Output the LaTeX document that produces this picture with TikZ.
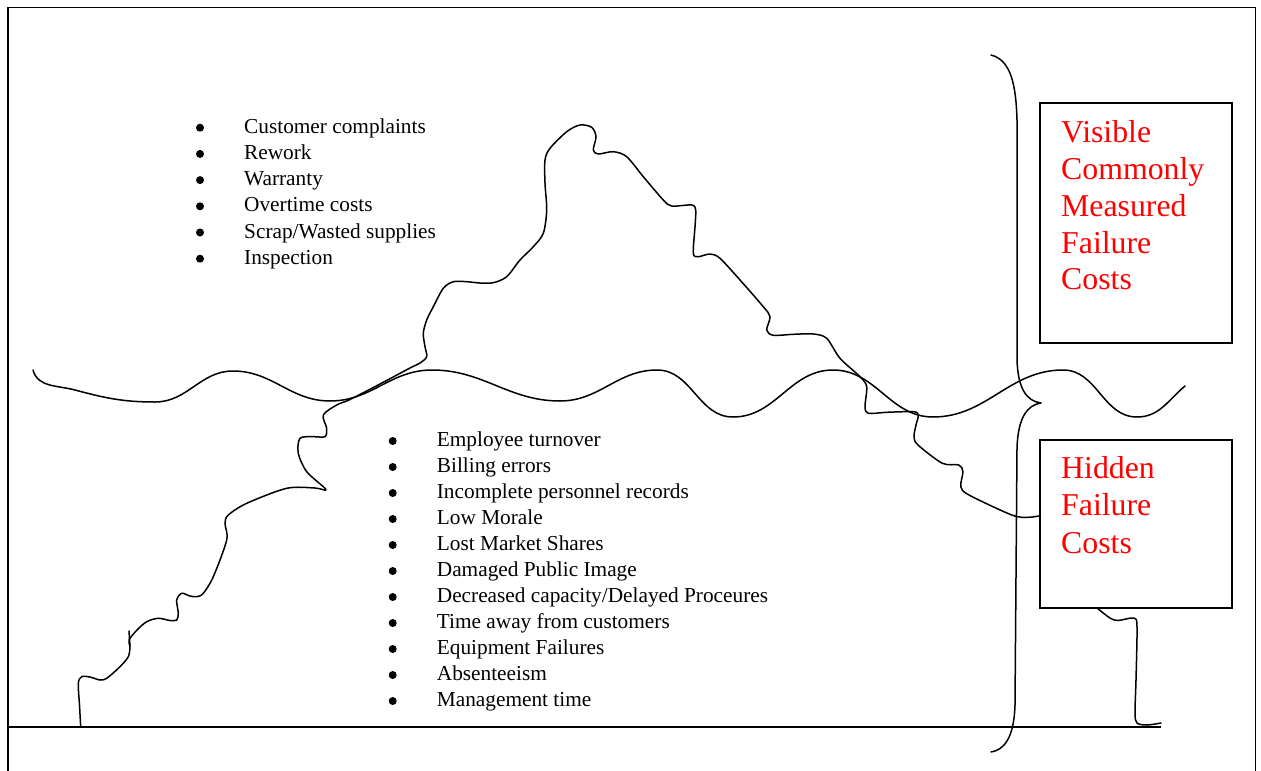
\documentclass[tikz,border=0pt]{standalone}
\usepackage{fontspec}
\setmainfont{Liberation Serif}
\begin{document}
\begin{tikzpicture}[x=1pt,y=-1pt,
  outline/.style={line width=1.5pt,line join=round,line cap=round},
  frameline/.style={line width=1.6pt},
  costbox/.style={draw,line width=1.9pt},
  item/.style={anchor=base west,inner sep=0pt,font=\fontsize{21.3}{26}\selectfont},
  redlabel/.style={anchor=base west,inner sep=0pt,text=red,font=\fontsize{31.8}{37}\selectfont},
  bulletdot/.style={fill=black}]
\useasboundingbox (0,0) rectangle (1261,771);

% page frame and ground line
\draw[frameline] (8.2,771) -- (8.2,7.3) -- (1255.5,7.3) -- (1255.5,771);
\draw[line width=1.9pt] (8.2,727.3) -- (1161,727.3);

% water line
\draw[outline] (33,370) to[out=-75,in=165] (75,390) to[out=-15,in=180] (155,402)
  to[out=0,in=180] (233,371) to[out=0,in=180] (330,401) to[out=0,in=180] (432,370)
  to[out=0,in=180] (560,401) to[out=0,in=180] (657,370) to[out=0,in=180] (733,417)
  to[out=0,in=180] (833,370) to[out=0,in=180] (933,417) to[out=0,in=180] (1063,370)
  to[out=0,in=180] (1137,417) to[out=0,in=-140] (1185,386);

% iceberg outline
\draw[outline] plot[smooth,tension=0.5] coordinates {
 (80.7,726.7) (79.5,705) (78.3,683.3) (81.7,676.7) (90,677) (100,680) (106.7,678.3)
 (120,666.7) (128.3,656.7) (130,646.7) (129,640) (137,630) (146.7,621.7) (158.3,618.3)
 (170,620.5) (176.7,620) (178.3,613.3) (176.7,600) (181.7,593.3) (190,596) (196.7,596.7)
 (203.3,593.3) (213.3,576.7) (226.7,540) (225,523.3) (228.3,515) (246.7,503.3)
 (286.7,488.3) (315,488) (326,489.5) (306.7,471.7) (298.3,453.3) (300,438.3) (313.3,436.7)
 (325,436.7) (326.7,428.3) (323.3,415) (336.7,405) (350,399.5) (380,384) (410,368)
 (420,363) (426.7,356.7) (425,346.7) (423.3,333.3) (426.7,320) (433.3,306.7)
 (443.3,288.3) (453.3,281.7) (466.7,281.7) (480,283) (493.3,282.7) (506.7,276.7)
 (520,260) (533.3,246.7) (543.3,233.3) (546.7,210) (545,183.3) (545,160) (550,148.3)
 (566.7,131.7) (580,125) (591.7,127.3) (596,136.7) (593.3,150) (598.3,154) (613.3,151.7)
 (626.7,156.7) (643.3,176.7) (663.3,200) (671.7,206) (691.7,205) (695.7,210) (695,226.7)
 (693.3,253.3) (698.3,256.7) (710,254) (720,258.3) (740,280) (763.3,306.7) (770,316.7)
 (766.7,330) (773.3,335.3) (793.3,334.3) (813.3,334) (826.7,338.3) (840,358.3)
 (860,376.7) (866.7,386.7) (865,406.7) (868.3,413.3) (886.7,412.3) (913.3,411.7)
 (918.3,415) (916,425) (914,436.7) (918,445) (942.4,463.3) (958.8,465) (962.9,471.7)
 (960.8,486.7) (969,495) (1011.8,515) (1028,517.3) (1040.4,515.7)};
\draw[outline] (129,631) -- (130,646);

% outline running from the hidden box down to the ground
\draw[outline] plot[smooth,tension=0.5] coordinates {
 (1097,608) (1110,618) (1118,620.5) (1134,618) (1137,627) (1136,680) (1135,713)
 (1137,723) (1147,725) (1161,723)};

% curly brace
\draw[outline] (991,55) .. controls (1011,60) and (1016,85) .. (1017,120)
  -- (1017,360) .. controls (1018,388) and (1026,401) .. (1041,403)
  .. controls (1027,405) and (1018,418) .. (1017,448)
  -- (1015,705) .. controls (1014,738) and (1004,750) .. (991,752);

% cost boxes
\draw[costbox] (1040.4,103.3) rectangle (1232,343.3);
\draw[costbox] (1040.4,440) rectangle (1232,607.7);

\foreach \t [count=\i] in {Visible,Commonly,Measured,Failure,Costs}
  \node[redlabel] (vis\i) at (1061,{142.7+36.8*(\i-1)}) {\t};
\foreach \t [count=\i] in {Hidden,Failure,Costs}
  \node[redlabel] (hid\i) at (1061,{478.3+37.5*(\i-1)}) {\t};

% visible costs list
\foreach \t [count=\i] in {Customer complaints,Rework,Warranty,Overtime costs,Scrap/Wasted supplies,Inspection}{
  \fill[bulletdot] (200,{127.7+26.2*(\i-1)}) circle (4);
  \node[item] (up\i) at (244,{133.3+26.2*(\i-1)}) {\t};
}

% hidden costs list
\foreach \t [count=\i] in {Employee turnover,Billing errors,Incomplete personnel records,Low Morale,Lost Market Shares,Damaged Public Image,Decreased capacity/Delayed Proceures,Time away from customers,Equipment Failures,Absenteeism,Management time}{
  \fill[bulletdot] (392.7,{441+26*(\i-1)}) circle (4);
  \node[item] (lo\i) at (436.7,{446.7+26*(\i-1)}) {\t};
}
\end{tikzpicture}
\end{document}
